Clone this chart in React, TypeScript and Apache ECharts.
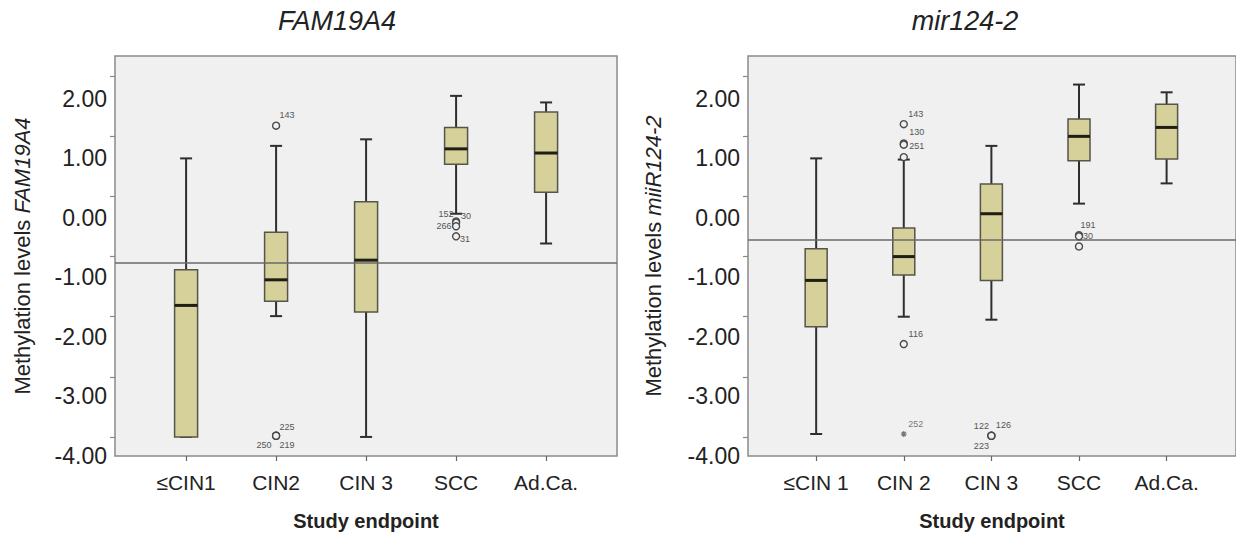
import React, { useEffect, useRef } from "react";
import * as echarts from "echarts";

// ---------- data ----------
const famCategories = ["≤CIN1", "CIN2", "CIN 3", "SCC", "Ad.Ca."];
const mirCategories = ["≤CIN 1", "CIN 2", "CIN 3", "SCC", "Ad.Ca."];
const yLabelValues = [-4, -3, -2, -1, 0, 1, 2];
const yTickValues = [-3.68, -2.67, -1.66, -0.65, 0.36, 1.37, 2.38];
const catIndex = [0, 1, 2, 3, 4];

// FAM19A4: min, Q1, median, Q3, max per category
const famMin = [-3.68, -1.65, -3.68, 0.07, -0.43];
const famQ1 = [-3.68, -1.4, -1.58, 0.9, 0.43];
const famMedian = [-1.47, -1.04, -0.71, 1.16, 1.09];
const famQ3 = [-0.87, -0.24, 0.27, 1.52, 1.78];
const famMax = [1.0, 1.21, 1.32, 2.05, 1.94];
const famCutoff = -0.76;
const famOutlierCat = [1, 1, 1, 1, 3, 3, 3, 3];
const famOutlierVal = [1.55, -3.66, -3.66, -3.66, -0.06, -0.08, -0.14, -0.31];
const famOutlierId = ["143", "225", "250", "219", "152", "30", "266", "31"];

// mir124-2
const mirMin = [-3.63, -1.66, -1.71, 0.24, 0.58];
const mirQ1 = [-1.83, -0.96, -1.05, 0.96, 0.99];
const mirMedian = [-1.05, -0.65, 0.07, 1.37, 1.52];
const mirQ3 = [-0.52, -0.17, 0.57, 1.66, 1.91];
const mirMax = [1.0, 0.98, 1.21, 2.24, 2.11];
const mirCutoff = -0.36;
const mirOutlierCat = [1, 1, 1, 1, 1, 2, 2, 2, 3, 3, 3];
const mirOutlierVal = [1.575, 1.25, 1.23, 1.02, -2.12, -3.66, -3.66, -3.66, -0.29, -0.31, -0.48];
const mirOutlierId = ["143", "130", "251", "", "116", "122", "126", "223", "191", "30", ""];
const mirExtremeCat = [1];
const mirExtremeVal = [-3.63];
const mirExtremeId = ["252"];

// ---------- styles ----------
const FONT = "'Liberation Sans', Arial, Helvetica, sans-serif";
const labelOffsets: Record<string, [number, number]> = {
  "fam-143": [11, -11],
  "fam-225": [11, -9],
  "fam-250": [-12, 9],
  "fam-219": [11, 9],
  "fam-152": [-10, -7],
  "fam-30": [10, -7],
  "fam-266": [-12, 0],
  "fam-31": [9, 3],
  "mir-143": [12, -10],
  "mir-130": [13, -12],
  "mir-251": [13, 1],
  "mir-116": [12, -10],
  "mir-252": [12, -10],
  "mir-122": [-10, -10],
  "mir-126": [12, -11],
  "mir-223": [-10, 10],
  "mir-191": [9, -10],
  "mir-30": [9, 0],
};

const boxData = (mn: number[], q1: number[], md: number[], q3: number[], mx: number[]) =>
  catIndex.map((i) => [i, mn[i], q1[i], md[i], q3[i], mx[i]]);

const outlierData = (prefix: string, cats: number[], vals: number[], ids: string[]) =>
  cats.map((c, i) => ({
    value: [c, vals[i]],
    name: ids[i],
    label: { offset: labelOffsets[prefix + "-" + ids[i]] || [0, 0] },
  }));

const renderBox = (boxW: number) => (_params: any, api: any) => {
  const x = api.value(0);
  const pMin = api.coord([x, api.value(1)]);
  const pQ1 = api.coord([x, api.value(2)]);
  const pMed = api.coord([x, api.value(3)]);
  const pQ3 = api.coord([x, api.value(4)]);
  const pMax = api.coord([x, api.value(5)]);
  const cx = pMed[0];
  const hw = boxW / 2;
  const cw = 6;
  const wStyle = { stroke: "#2e2e2e", lineWidth: 2 };
  return {
    type: "group",
    children: [
      { type: "line", shape: { x1: cx, y1: pMax[1], x2: cx, y2: pQ3[1] }, style: wStyle },
      { type: "line", shape: { x1: cx, y1: pQ1[1], x2: cx, y2: pMin[1] }, style: wStyle },
      { type: "line", shape: { x1: cx - cw, y1: pMax[1], x2: cx + cw, y2: pMax[1] }, style: wStyle },
      { type: "line", shape: { x1: cx - cw, y1: pMin[1], x2: cx + cw, y2: pMin[1] }, style: wStyle },
      {
        type: "rect",
        shape: { x: cx - hw, y: pQ3[1], width: boxW, height: pQ1[1] - pQ3[1] },
        style: { fill: "#d6d09a", stroke: "#55554a", lineWidth: 1.5 },
      },
      {
        type: "line",
        shape: { x1: cx - hw, y1: pMed[1], x2: cx + hw, y2: pMed[1] },
        style: { stroke: "#1e1e14", lineWidth: 3 },
      },
    ],
  };
};

const yAxisFor = (gridIndex: number, name: string, italic: string, gap: number) => ({
  type: "value",
  gridIndex,
  min: -4,
  max: 2.72,
  name: name + " {i|" + italic + "}",
  nameLocation: "middle",
  nameGap: gap,
  nameTextStyle: {
    fontSize: 22,
    color: "#222",
    fontFamily: FONT,
    rich: { i: { fontStyle: "italic", fontSize: 22, color: "#222", fontFamily: FONT } },
  },
  splitLine: { show: false },
  axisLine: { show: false, onZero: false },
  axisTick: { show: true, customValues: yTickValues, length: 5, lineStyle: { color: "#888", width: 1.2 } },
  axisLabel: {
    customValues: yLabelValues,
    formatter: (v: number) => v.toFixed(2),
    fontSize: 23,
    color: "#222",
    fontFamily: FONT,
    margin: 8,
  },
});

const xAxisFor = (gridIndex: number, min: number, max: number, cats: string[]) => ({
  type: "value",
  gridIndex,
  min,
  max,
  name: "Study endpoint",
  nameLocation: "middle",
  nameGap: 55,
  nameTextStyle: { fontSize: 20, fontWeight: "bold", color: "#222", fontFamily: FONT },
  splitLine: { show: false },
  axisLine: { show: false, onZero: false },
  axisTick: { show: true, customValues: catIndex, length: 5, lineStyle: { color: "#666", width: 1.2 } },
  axisLabel: {
    customValues: catIndex,
    formatter: (v: number) => cats[Math.round(v)] ?? "",
    fontSize: 21,
    color: "#222",
    fontFamily: FONT,
    margin: 16,
  },
});

const outlierSeries = (idx: number, data: any[], cutoff: number) => ({
  type: "scatter",
  xAxisIndex: idx,
  yAxisIndex: idx,
  data,
  symbol: "circle",
  symbolSize: 7,
  z: 5,
  silent: true,
  itemStyle: { color: "#f0f0f0", borderColor: "#4a4a4a", borderWidth: 1.4, opacity: 1 },
  label: { show: true, position: "inside", formatter: "{b}", fontSize: 9, color: "#555", fontFamily: FONT },
  markLine: {
    silent: true,
    symbol: "none",
    label: { show: false },
    lineStyle: { color: "#6a6a6a", width: 1.5, type: "solid" },
    data: [{ yAxis: cutoff }],
  },
});

const option: any = {
  animation: false,
  backgroundColor: "#ffffff",
  grid: [
    { left: 115, top: 56, width: 502, height: 400, show: true, backgroundColor: "#f0f0f0", borderColor: "#8a8a8a", borderWidth: 1.5 },
    { left: 748, top: 56, width: 494, height: 400, show: true, backgroundColor: "#f0f0f0", borderColor: "#8a8a8a", borderWidth: 1.5 },
  ],
  xAxis: [xAxisFor(0, -0.79, 4.788, famCategories), xAxisFor(1, -0.778, 4.792, mirCategories)],
  yAxis: [
    yAxisFor(0, "Methylation levels", "FAM19A4", 82),
    yAxisFor(1, "Methylation levels", "miiR124-2", 84),
  ],
  graphic: [
    {
      type: "text",
      x: 337,
      y: 21,
      style: { text: "FAM19A4", font: "italic 27px " + FONT, fill: "#222", textAlign: "center", textVerticalAlign: "middle" },
    },
    {
      type: "text",
      x: 965,
      y: 21,
      style: { text: "mir124-2", font: "italic 27px " + FONT, fill: "#222", textAlign: "center", textVerticalAlign: "middle" },
    },
  ],
  series: [
    {
      type: "custom",
      xAxisIndex: 0,
      yAxisIndex: 0,
      silent: true,
      renderItem: renderBox(23),
      encode: { x: 0, y: [1, 2, 3, 4, 5] },
      data: boxData(famMin, famQ1, famMedian, famQ3, famMax),
    },
    outlierSeries(0, outlierData("fam", famOutlierCat, famOutlierVal, famOutlierId), famCutoff),
    {
      type: "custom",
      xAxisIndex: 1,
      yAxisIndex: 1,
      silent: true,
      renderItem: renderBox(22),
      encode: { x: 0, y: [1, 2, 3, 4, 5] },
      data: boxData(mirMin, mirQ1, mirMedian, mirQ3, mirMax),
    },
    outlierSeries(1, outlierData("mir", mirOutlierCat, mirOutlierVal, mirOutlierId), mirCutoff),
    {
      type: "scatter",
      xAxisIndex: 1,
      yAxisIndex: 1,
      silent: true,
      z: 5,
      data: outlierData("mir", mirExtremeCat, mirExtremeVal, mirExtremeId),
      symbol: "path://M5 0 L5 10 M0 5 L10 5 M1.5 1.5 L8.5 8.5 M8.5 1.5 L1.5 8.5",
      symbolSize: 6,
      itemStyle: { color: "none", borderColor: "#555", borderWidth: 1.2 },
      label: { show: true, position: "inside", formatter: "{b}", fontSize: 9, color: "#555", fontFamily: FONT },
    },
  ],
};

export default function App() {
  const ref = useRef<HTMLDivElement>(null);
  useEffect(() => {
    if (!ref.current) return;
    const chart = echarts.init(ref.current, null, { renderer: "svg" });
    chart.setOption(option);
    return () => chart.dispose();
  }, []);
  return (
    <div
      ref={ref}
      style={{ position: "absolute", left: 0, top: 0, width: 1236, height: 537, background: "#fff" }}
    />
  );
}
